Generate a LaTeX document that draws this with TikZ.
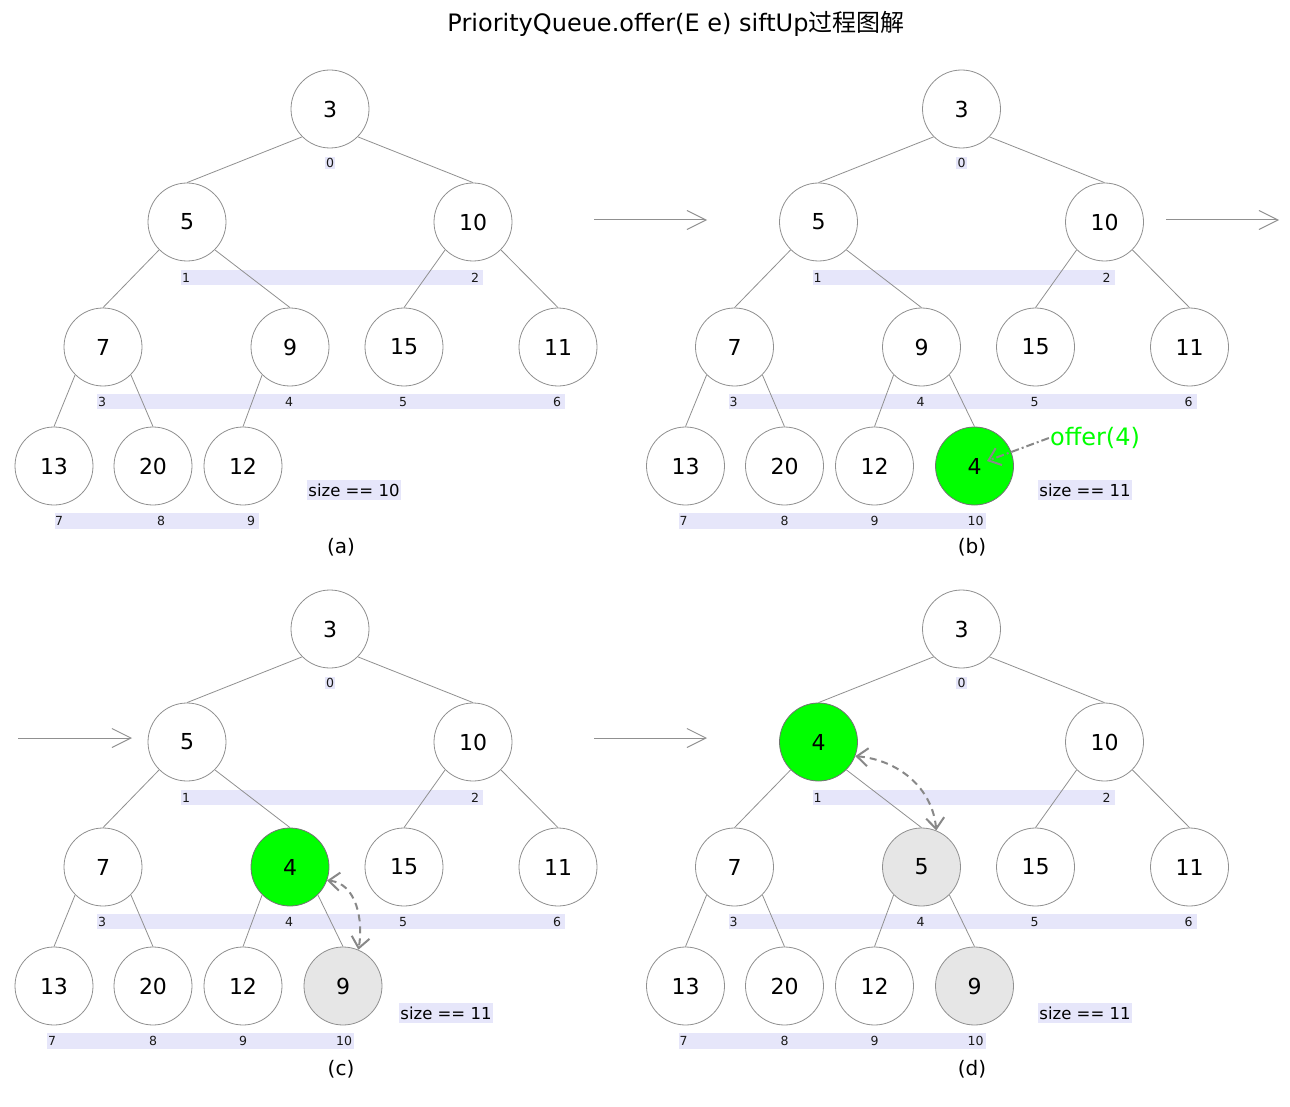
\documentclass[tikz,border=0pt]{standalone}
\usepackage{fontspec}
\setmainfont{DejaVu Sans}
\newfontfamily\cjk{Noto Sans CJK SC}
\usetikzlibrary{arrows.meta}
\definecolor{lav}{HTML}{E6E6FA}
\definecolor{grn}{HTML}{00FF00}
\definecolor{lgray}{HTML}{E6E6E6}
\definecolor{lnc}{HTML}{909090}
\definecolor{arc}{HTML}{888888}
\tikzset{
 hn/.style={circle, draw=lnc, line width=0.8pt, fill=white, minimum size=78pt, inner sep=0pt, font=\fontsize{22}{26}\selectfont},
 hgreen/.style={hn, fill=grn, draw=black!55},
 hgray/.style={hn, fill=lgray},
 tedge/.style={draw=lnc, line width=0.8pt},
 ix/.style={font=\fontsize{12.5}{14}\selectfont, inner sep=0pt, text=black!90},
 ixbox/.style={ix, fill=lav, inner sep=1.5pt},
 sizebox/.style={fill=lav, font=\fontsize{16.5}{19}\selectfont, inner xsep=1.5pt, inner ysep=0pt, minimum height=20pt},
 caption/.style={font=\fontsize{20}{24}\selectfont},
 flow/.style={draw=lnc, line width=1pt, -{Straight Barb[length=19pt,width=19pt]}},
 swap/.style={draw=arc, line width=2pt, dash pattern=on 7pt off 5pt, {Straight Barb[length=11pt,width=18pt]}-{Straight Barb[length=11pt,width=18pt]}},
 offerline/.style={draw=arc, line width=2pt, dash pattern=on 8pt off 3pt on 2pt off 3pt, -{Straight Barb[length=11pt,width=18pt]}},
}
\newcommand\mkidx[1]{%
 \node[ixbox] (#1i0) at (330,163) {0};
 \fill[lav] (181,270) rectangle (483,285);
 \node[ix] (#1i1) at (186,278) {1};
 \node[ix] (#1i2) at (475,278) {2};
 \fill[lav] (97,394) rectangle (565,409);
 \node[ix] (#1i3) at (102,402) {3};
 \node[ix] (#1i4) at (289,402) {4};
 \node[ix] (#1i5) at (403,402) {5};
 \node[ix] (#1i6) at (557,402) {6};
}
\newcommand\mklastidx[1]{%
 \fill[lav] (47,513) rectangle (354,529);
 \node[ix] (#1i7) at (52,521) {7};
 \node[ix] (#1i8) at (153,521) {8};
 \node[ix] (#1i9) at (243,521) {9};
 \node[ix] (#1i10) at (344,521) {10};
}
\newcommand\mkedges[1]{%
 \draw[tedge] (#10.south west) -- (#11.north);
 \draw[tedge] (#10.south east) -- (#12.north);
 \draw[tedge] (#11.south west) -- (#13.north);
 \draw[tedge] (#11.south east) -- (#14.north);
 \draw[tedge] (#12.south west) -- (#15.north);
 \draw[tedge] (#12.south east) -- (#16.north);
 \draw[tedge] (#13.south west) -- (#17.north);
 \draw[tedge] (#13.south east) -- (#18.north);
 \draw[tedge] (#14.south west) -- (#19.north);
}
\begin{document}
\begin{tikzpicture}[x=1pt,y=-1pt]
\useasboundingbox (0,0) rectangle (1290,1107);
\node (title) at (676,24) {\fontsize{24}{28}\selectfont PriorityQueue.offer(E e) siftUp{\cjk 过程图解}};

% ---------- (a)
\begin{scope}
 \mkidx{a}
 \fill[lav] (55,513) rectangle (259,529);
 \node[ix] (ai7) at (59,521) {7};
 \node[ix] (ai8) at (161,521) {8};
 \node[ix] (ai9) at (251,521) {9};
 \node[hn] (a0) at (330,109) {3};
 \node[hn] (a1) at (187,222) {5};
 \node[hn] (a2) at (473,222) {10};
 \node[hn] (a3) at (103,347) {7};
 \node[hn] (a4) at (290,347) {9};
 \node[hn] (a5) at (404,347) {15};
 \node[hn] (a6) at (558,347) {11};
 \node[hn] (a7) at (54,466) {13};
 \node[hn] (a8) at (153,466) {20};
 \node[hn] (a9) at (243,466) {12};
 \mkedges{a}
 \node[sizebox] (asize) at (354,490) {size == 10};
 \node[caption] (acap) at (341,547) {(a)};
\end{scope}

% ---------- (b)
\begin{scope}[shift={(631.5,0)}]
 \mkidx{b}
 \mklastidx{b}
 \node[hn] (b0) at (330,109) {3};
 \node[hn] (b1) at (187,222) {5};
 \node[hn] (b2) at (473,222) {10};
 \node[hn] (b3) at (103,347) {7};
 \node[hn] (b4) at (290,347) {9};
 \node[hn] (b5) at (404,347) {15};
 \node[hn] (b6) at (558,347) {11};
 \node[hn] (b7) at (54,466) {13};
 \node[hn] (b8) at (153,466) {20};
 \node[hn] (b9) at (243,466) {12};
 \node[hgreen] (b10) at (343,466) {4};
 \mkedges{b}
 \draw[tedge] (b4.south east) -- (b10.north);
 \node[sizebox] (bsize) at (453.5,490) {size == 11};
 \node[caption] (bcap) at (340.5,547) {(b)};
 \node[text=grn, font=\fontsize{24}{28}\selectfont, inner sep=1pt] (offer) at (463.5,438) {offer(4)};
 \coordinate (btip) at (355.5,461);
 \draw[offerline] (offer.west) -- (btip);
\end{scope}

% ---------- (c)
\begin{scope}[shift={(0,520)}]
 \mkidx{c}
 \mklastidx{c}
 \node[hn] (c0) at (330,109) {3};
 \node[hn] (c1) at (187,222) {5};
 \node[hn] (c2) at (473,222) {10};
 \node[hn] (c3) at (103,347) {7};
 \node[hgreen] (c4) at (290,347) {4};
 \node[hn] (c5) at (404,347) {15};
 \node[hn] (c6) at (558,347) {11};
 \node[hn] (c7) at (54,466) {13};
 \node[hn] (c8) at (153,466) {20};
 \node[hn] (c9) at (243,466) {12};
 \node[hgray] (c10) at (343,466) {9};
 \mkedges{c}
 \draw[tedge] (c4.south east) -- (c10.north);
 \node[sizebox] (csize) at (446,493) {size == 11};
 \node[caption] (ccap) at (341,549) {(c)};
 \draw[swap] (c4.-20) to[out=-5,in=80] (c10.67);
\end{scope}

% ---------- (d)
\begin{scope}[shift={(631.5,520)}]
 \mkidx{d}
 \mklastidx{d}
 \node[hn] (d0) at (330,109) {3};
 \node[hgreen] (d1) at (187,222) {4};
 \node[hn] (d2) at (473,222) {10};
 \node[hn] (d3) at (103,347) {7};
 \node[hgray] (d4) at (290,347) {5};
 \node[hn] (d5) at (404,347) {15};
 \node[hn] (d6) at (558,347) {11};
 \node[hn] (d7) at (54,466) {13};
 \node[hn] (d8) at (153,466) {20};
 \node[hn] (d9) at (243,466) {12};
 \node[hgray] (d10) at (343,466) {9};
 \mkedges{d}
 \draw[tedge] (d4.south east) -- (d10.north);
 \node[sizebox] (dsize) at (453.5,493) {size == 11};
 \node[caption] (dcap) at (340.5,549) {(d)};
 \draw[swap] (d1.-21) to[out=-5,in=95] (d4.68);
\end{scope}

% ---------- flow arrows
\coordinate (f1s) at (594,220); \coordinate (f1e) at (707,220);
\coordinate (f2s) at (1166,220); \coordinate (f2e) at (1279,220);
\coordinate (f3s) at (18,738); \coordinate (f3e) at (132,738);
\coordinate (f4s) at (594,738); \coordinate (f4e) at (707,738);
\draw[flow] (f1s) -- (f1e);
\draw[flow] (f2s) -- (f2e);
\draw[flow] (f3s) -- (f3e);
\draw[flow] (f4s) -- (f4e);
\end{tikzpicture}
\end{document}
